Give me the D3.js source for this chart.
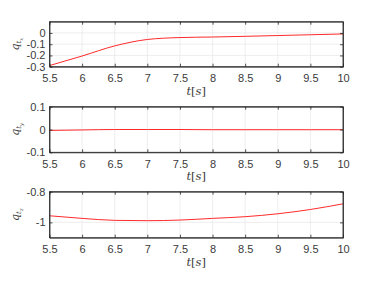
<!DOCTYPE html>
<html><head><meta charset="utf-8">
<script src="https://cdn.jsdelivr.net/npm/d3@7"></script>
<style>body{margin:0;background:#fff}svg{display:block}text{font-family:"Liberation Sans",Arial,sans-serif}</style>
</head><body><svg id="c" width="379" height="285"></svg>
<script>
const tVals = [5.5, 6, 6.5, 7, 7.5, 8, 8.5, 9, 9.5, 10];
const qtx = [-0.29, -0.205, -0.115, -0.058, -0.041, -0.036, -0.03, -0.023, -0.016, -0.009];
const qty = [-0.004, -0.002, 0.0, 0.0, 0.0, -0.001, -0.001, -0.001, -0.001, -0.001];
const qtz = [-0.957, -0.974, -0.987, -0.989, -0.985, -0.974, -0.963, -0.944, -0.916, -0.879];
const xTicks = [5.5, 6, 6.5, 7, 7.5, 8, 8.5, 9, 9.5, 10];
const yTicksX = [-0.3, -0.2, -0.1, 0];
const yTicksY = [-0.1, 0, 0.1];
const yTicksZ = [-1, -0.8];
const labels = ["x", "y", "z"];

const panels = [
  {data: qtx, dom: [-0.3, 0.1], ticks: yTicksX, top: 21.7, bot: 66.7, sub: labels[0]},
  {data: qty, dom: [-0.1, 0.1], ticks: yTicksY, top: 106.7, bot: 152.3, sub: labels[1]},
  {data: qtz, dom: [-1.1, -0.8], ticks: yTicksZ, top: 191.7, bot: 237.7, sub: labels[2]}
];
const fmt = d => String(d);
const svg = d3.select("#c");
const x = d3.scaleLinear().domain([5.5, 10]).range([49.5, 343]);
const axisCol = "#262626";
const textCol = "#3a3a3a";
panels.forEach(p => {
  const y = d3.scaleLinear().domain(p.dom).range([p.bot, p.top]);
  const g = svg.append("g");
  g.selectAll(".gx").data(xTicks).join("line")
    .attr("x1", d => x(d)).attr("x2", d => x(d)).attr("y1", p.top).attr("y2", p.bot)
    .attr("stroke", "#e6e6e6").attr("stroke-width", 0.7);
  g.selectAll(".gy").data(p.ticks).join("line")
    .attr("x1", x.range()[0]).attr("x2", x.range()[1]).attr("y1", d => y(d)).attr("y2", d => y(d))
    .attr("stroke", "#e6e6e6").attr("stroke-width", 0.7);
  const line = d3.line().x((d, i) => x(tVals[i])).y(d => y(d)).curve(d3.curveMonotoneX);
  g.append("path").datum(p.data).attr("d", line).attr("fill", "none")
    .attr("stroke", "#ff2a2a").attr("stroke-width", 1);
  const ax = d3.axisBottom(x).tickValues(xTicks).tickFormat(fmt).tickSizeInner(-3).tickSizeOuter(0).tickPadding(8);
  const axb = g.append("g").attr("transform", `translate(0,${p.bot})`).call(ax);
  const axt = g.append("g").attr("transform", `translate(0,${p.top})`).call(d3.axisTop(x).tickValues(xTicks).tickSizeInner(-3).tickSizeOuter(0).tickFormat(""));
  const ayl = g.append("g").attr("transform", `translate(${x.range()[0]},0)`).call(d3.axisLeft(y).tickValues(p.ticks).tickFormat(fmt).tickSizeInner(-3).tickSizeOuter(0).tickPadding(4));
  const ayr = g.append("g").attr("transform", `translate(${x.range()[1]},0)`).call(d3.axisRight(y).tickValues(p.ticks).tickSizeInner(-3).tickSizeOuter(0).tickFormat(""));
  [axb, axt, ayl, ayr].forEach(a => {
    a.selectAll("path.domain").attr("stroke", axisCol).attr("stroke-width", 0.8);
    a.selectAll(".tick line").attr("stroke", axisCol).attr("stroke-width", 0.8);
    a.selectAll("text").attr("fill", textCol).style("font-size", "11px");
  });
  g.append("rect").attr("x", x.range()[0]).attr("y", p.top).attr("width", x.range()[1] - x.range()[0]).attr("height", p.bot - p.top)
    .attr("fill", "none").attr("stroke", axisCol).attr("stroke-width", 0.8);
  const xl = g.append("text").attr("x", (x.range()[0] + x.range()[1]) / 2).attr("y", p.bot + 28)
    .attr("text-anchor", "middle").style("font-size", "11.5px").attr("fill", textCol)
    .style("font-family", "'DejaVu Serif','Liberation Serif',serif");
  xl.append("tspan").style("font-style", "italic").text("t");
  xl.append("tspan").text("[");
  xl.append("tspan").style("font-style", "italic").text("s");
  xl.append("tspan").text("]");
  const yc = (p.top + p.bot) / 2;
  const yl = g.append("text").attr("transform", `translate(19,${yc}) rotate(-90)`).attr("text-anchor", "middle")
    .style("font-size", "11px").attr("fill", textCol)
    .style("font-family", "'DejaVu Serif','Liberation Serif',serif");
  yl.append("tspan").style("font-style", "italic").text("q");
  yl.append("tspan").style("font-style", "italic").style("font-size", "7px").attr("dy", 2).text("t");
  yl.append("tspan").style("font-style", "italic").style("font-size", "5px").attr("dy", 1.5).text(p.sub);
});
</script></body></html>
